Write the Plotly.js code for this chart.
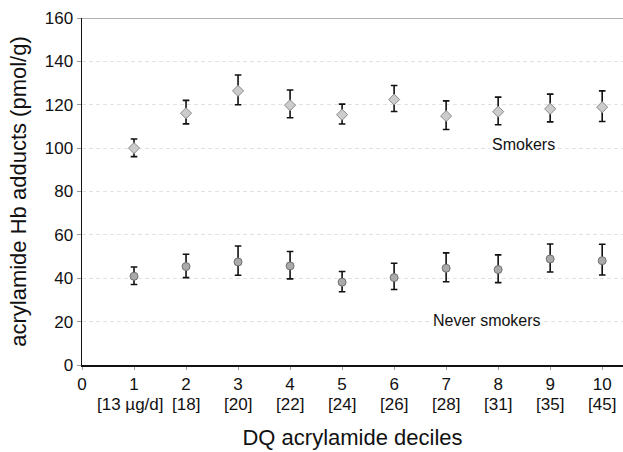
<!DOCTYPE html>
<html>
<head>
<meta charset="utf-8">
<script src="https://cdn.plot.ly/plotly-3.0.1.min.js"></script>
<style>html,body{margin:0;padding:0;background:#fff;}#chart{width:623px;height:452px;}</style>
</head>
<body>
<div id="chart"></div>
<script>
const deciles = [1, 2, 3, 4, 5, 6, 7, 8, 9, 10];
const tickVals = [0, 1, 2, 3, 4, 5, 6, 7, 8, 9, 10];
const tickNums = ["0", "1", "2", "3", "4", "5", "6", "7", "8", "9", "10"];
const intakeLabels = ["[13 µg/d]", "[18]", "[20]", "[22]", "[24]", "[26]", "[28]", "[31]", "[35]", "[45]"];

const smokers = [100.0, 116.1, 126.4, 119.8, 115.4, 122.4, 114.8, 116.8, 118.1, 118.9];
const smokersUp = [4.2, 5.9, 7.3, 7.0, 4.9, 6.5, 7.0, 6.7, 6.8, 7.5];
const smokersDown = [3.9, 4.9, 6.4, 5.8, 4.3, 5.5, 6.2, 6.0, 6.0, 6.6];

const never = [40.9, 45.4, 47.5, 45.7, 38.2, 40.3, 44.6, 44.0, 48.9, 48.1];
const neverUp = [4.3, 5.7, 7.4, 6.6, 4.9, 6.6, 7.1, 6.8, 6.9, 7.6];
const neverDown = [3.8, 5.1, 6.1, 6.0, 4.4, 5.5, 6.2, 6.0, 6.0, 6.6];

const font = "Liberation Sans, Arial, Helvetica, sans-serif";

const errStyle = {type: "data", symmetric: false, color: "#111", thickness: 1.6, width: 3.3};

const traces = [
  {
    x: deciles, y: smokers, type: "scatter", mode: "markers", name: "Smokers",
    marker: {symbol: "diamond", size: 8.5, color: "#cccccc", line: {color: "#8a8a8a", width: 1}},
    error_y: Object.assign({array: smokersUp, arrayminus: smokersDown}, errStyle),
    cliponaxis: false
  },
  {
    x: deciles, y: never, type: "scatter", mode: "markers", name: "Never smokers",
    marker: {symbol: "circle", size: 8, color: "#aaaaaa", line: {color: "#707070", width: 1}},
    error_y: Object.assign({array: neverUp, arrayminus: neverDown}, errStyle),
    cliponaxis: false
  }
];

const intakeAnnotations = deciles.map((d, i) => ({
  x: d, y: 0, xref: "x", yref: "paper", yanchor: "middle", yshift: -39,
  xshift: i === 0 ? -4 : 0,
  text: intakeLabels[i], showarrow: false, borderpad: 0,
  font: {size: 17, family: font, color: "#111"}
}));

const layout = {
  width: 623, height: 452,
  margin: {l: 82, r: 0, t: 18, b: 87},
  paper_bgcolor: "#fff", plot_bgcolor: "#fff",
  showlegend: false,
  font: {family: font, color: "#111", size: 17},
  xaxis: {
    range: [0, 10.4], tickvals: tickVals, ticktext: tickNums,
    showgrid: false, zeroline: false,
    showline: true, linecolor: "#111", linewidth: 1.5,
    ticks: "outside", ticklen: 3, tickcolor: "#999", tickwidth: 1,
    tickfont: {size: 17, family: font, color: "#111"},
    title: {text: "DQ acrylamide deciles", font: {size: 22, family: font, color: "#111"}, standoff: 36},
    fixedrange: true
  },
  yaxis: {
    range: [0, 160], tickvals: [0, 20, 40, 60, 80, 100, 120, 140, 160],
    showgrid: true, gridcolor: "#e2e2e2", griddash: "4px,3px", gridwidth: 1,
    zeroline: false,
    showline: true, linecolor: "#111", linewidth: 1.5,
    ticks: "outside", ticklen: 4, tickcolor: "#999", tickwidth: 1,
    tickfont: {size: 17, family: font, color: "#111"},
    title: {text: "acrylamide Hb adducts (pmol/g)", font: {size: 22, family: font, color: "#111"}, standoff: 12},
    fixedrange: true
  },
  shapes: [
    {type: "line", xref: "paper", yref: "y", x0: 0, x1: 1, y0: 160, y1: 160, line: {color: "#999", width: 1.5}}
  ],
  annotations: [
    {x: 8.49, y: 101.8, xref: "x", yref: "y", text: "Smokers", showarrow: false,
     font: {size: 16, family: font, color: "#111"}, bgcolor: "#fff"},
    {x: 7.79, y: 20.4, xref: "x", yref: "y", text: "Never smokers", showarrow: false,
     font: {size: 16, family: font, color: "#111"}, bgcolor: "#fff"}
  ].concat(intakeAnnotations)
};

Plotly.newPlot("chart", traces, layout, {displayModeBar: false, staticPlot: true});
</script>
</body>
</html>
